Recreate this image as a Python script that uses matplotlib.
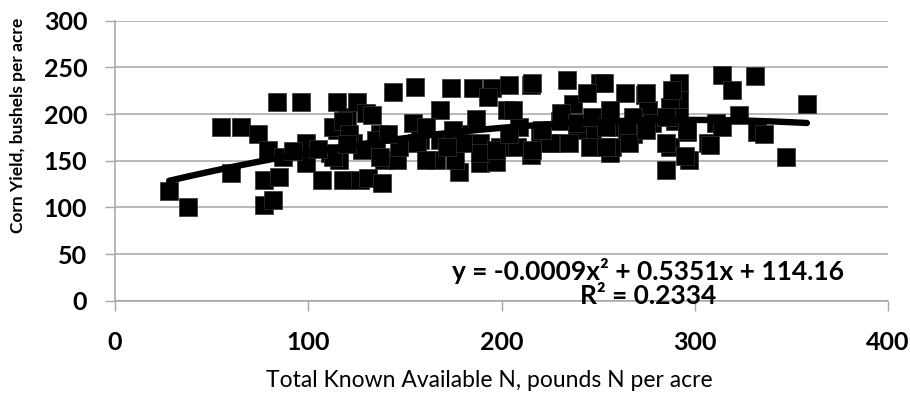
import numpy as np
import matplotlib
matplotlib.use("Agg")
import matplotlib.pyplot as plt

# total known available N (lb N/acre) and corn yield (bu/acre)
nAvail = [28, 38, 55, 65, 60, 74, 77, 82, 79, 77, 84, 96, 87, 85, 99, 99, 107, 111,
          115, 120, 118, 127, 123, 116, 115, 125, 113, 144, 155, 174, 185, 195, 204,
          215, 234, 251, 168, 193, 131, 138, 178, 176, 166, 189, 197, 215, 256, 139,
          146, 137, 154, 158, 168, 187, 203, 209, 220, 230, 237, 247, 130, 135, 147,
          178, 189, 199, 208, 226, 239, 253, 264, 274, 292, 292, 314, 319, 331, 358,
          323, 332, 336, 347, 285, 297, 307, 296, 276, 287, 268, 257, 287, 278, 290,
          311, 268, 261, 256, 288, 292, 133, 118, 141, 121, 113, 156, 128, 137, 161,
          206, 161, 175, 189, 197, 204, 180, 172, 216, 244, 231, 239, 247, 216, 225,
          235, 246, 254, 221, 275, 285, 254, 265, 296, 266, 285, 275, 314, 308, 295,
          92, 105, 120]
yieldBu = [118, 100, 186, 186, 137, 179, 102, 108, 161, 129, 213, 213, 154, 133, 169,
           147, 129, 158, 183, 197, 129, 129, 169, 151, 213, 213, 186, 224, 229, 228,
           228, 228, 231, 231, 236, 233, 204, 218, 131, 126, 138, 151, 151, 147, 149,
           156, 158, 151, 151, 179, 190, 172, 172, 195, 204, 186, 179, 193, 211, 179,
           201, 172, 165, 179, 169, 165, 165, 169, 183, 233, 222, 220, 233, 215, 242,
           226, 241, 211, 199, 181, 179, 154, 140, 151, 169, 181, 204, 208, 179, 165,
           165, 190, 193, 190, 197, 186, 204, 226, 197, 199, 193, 179, 179, 154, 169,
           161, 154, 151, 204, 186, 183, 158, 161, 179, 169, 165, 233, 222, 201, 190,
           197, 161, 169, 169, 165, 165, 183, 222, 197, 186, 183, 183, 169, 169, 183,
           186, 167, 155, 160, 162, 168]

# Excel polynomial trendline as printed on the chart
trendCoef = [-0.0009, 0.5351, 114.16]
trendLabel = "y = -0.0009x² + 0.5351x + 114.16"
r2Label = "R² = 0.2334"

xTicks = [0, 100, 200, 300, 400]
yTicks = [0, 50, 100, 150, 200, 250, 300]

plt.rcParams["font.family"] = ["Lato", "DejaVu Sans"]

fig = plt.figure(figsize=(9.1, 3.93), dpi=100)
ax = fig.add_axes([0.1264, 0.2349, 0.8495, 0.7125])

gridCol = "#a6a6a6"
ax.scatter(nAvail, yieldBu, marker="s", s=150, color="black", linewidths=0.5,
           edgecolors="#333333", zorder=3)

xFit = np.linspace(min(nAvail), max(nAvail), 200)
ax.plot(xFit, np.polyval(trendCoef, xFit), color="black", lw=4.6,
        solid_capstyle="round", zorder=4)

ax.set_xlim(0, 400)
ax.set_ylim(0, 300)
ax.set_xticks(xTicks)
ax.set_yticks(yTicks)
ax.yaxis.grid(True, color=gridCol, lw=1.1)
ax.set_axisbelow(True)

for side in ["top", "right"]:
    ax.spines[side].set_visible(False)
for side in ["left", "bottom"]:
    ax.spines[side].set_color(gridCol)
    ax.spines[side].set_linewidth(1.1)

ax.tick_params(axis="x", direction="out", length=7, width=1, color=gridCol, pad=15,
               labelsize=18)
ax.tick_params(axis="y", direction="out", length=7, width=1, color=gridCol, pad=13,
               labelsize=18)
for lbl in ax.get_xticklabels() + ax.get_yticklabels():
    lbl.set_fontweight("bold")

ax.text(275.6, 31.5, trendLabel, ha="center", va="center", fontsize=19,
        fontweight="bold", zorder=5)
ax.text(275.6, 4.5, r2Label, ha="center", va="center", fontsize=19,
        fontweight="bold", zorder=5)

fig.text(0.538, 0.033, "Total Known Available N, pounds N per acre", ha="center",
         va="center", fontsize=16.5)
fig.text(0.0198, 0.682, "Corn Yield, bushels per acre", ha="center", va="center",
         rotation=90, fontsize=12.5, fontweight="bold")

fig.savefig("out.png", dpi=100)
